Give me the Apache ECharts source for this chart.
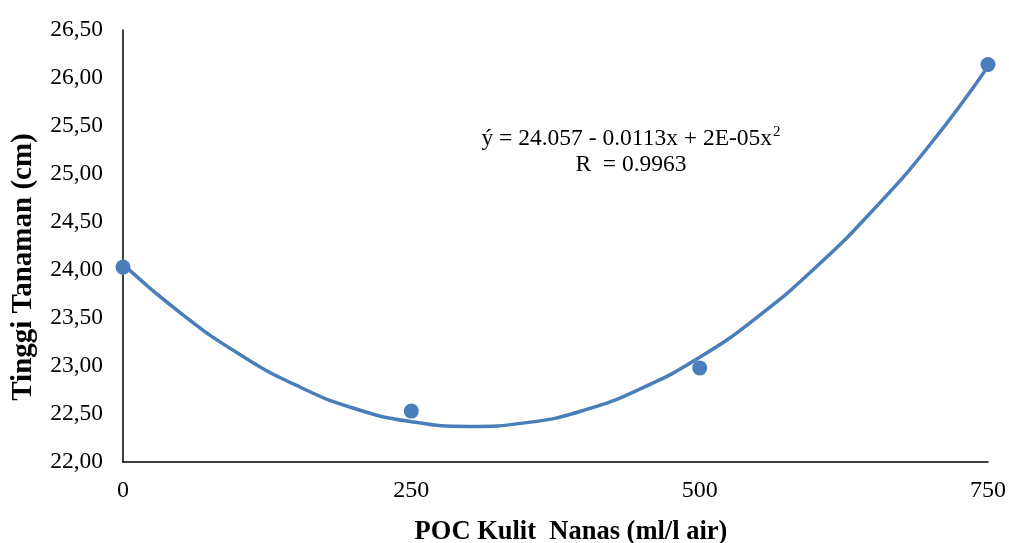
<!DOCTYPE html>
<html>
<head>
<meta charset="utf-8">
<script src="https://cdn.jsdelivr.net/npm/echarts@6/dist/echarts.min.js"></script>
<style>html,body{margin:0;padding:0;background:#fff;}#c{width:1009px;height:543px;}</style>
</head>
<body>
<div id="c"></div>
<script>
var doses = [0, 250, 500, 750];
var heights = [24.03, 22.53, 22.98, 26.14];
var trendX = [0, 50, 100, 150, 200, 250, 300, 350, 400, 450, 500, 550, 600, 650, 700, 750];
var trendY = [24.06, 23.55, 23.13, 22.80, 22.56, 22.42, 22.37, 22.41, 22.54, 22.77, 23.09, 23.51, 24.02, 24.62, 25.31, 26.12];
var yTicks = [22, 22.5, 23, 23.5, 24, 24.5, 25, 25.5, 26, 26.5];
var xTicks = [0, 250, 500, 750];
var eqText = 'ý = 24.057 - 0.0113x + 2E-05x';
var eqSup = '2';
var rText = 'R  = 0.9963';
var xName = 'POC Kulit  Nanas (ml/l air)';
var yName = 'Tinggi Tanaman (cm)';

var font = '"Liberation Serif", "Times New Roman", serif';
var chart = echarts.init(document.getElementById('c'));
function txt(s, x, y, size, bold, rot, rich) {
  return {type: 'text', x: x, y: y, rotation: rot || 0,
    style: {text: s, fontFamily: font, fontSize: size, fontWeight: bold ? 'bold' : 'normal',
      fill: '#000', align: 'center', verticalAlign: 'middle', rich: rich}};
}
chart.setOption({
  animation: false,
  grid: {left: 123, right: 21, top: 30, bottom: 81},
  xAxis: {
    type: 'value', min: 0, max: 750, interval: 250,
    axisLine: {lineStyle: {color: '#000', width: 1.5}},
    axisTick: {show: false},
    splitLine: {show: false},
    axisLabel: {color: '#000', fontFamily: font, fontSize: 24, margin: 17}
  },
  yAxis: {
    type: 'value', min: 22, max: 26.5, interval: 0.5,
    axisLine: {show: true, lineStyle: {color: '#000', width: 1.5}},
    axisTick: {show: false},
    splitLine: {show: false},
    axisLabel: {color: '#000', fontFamily: font, fontSize: 23.5, margin: 20,
      formatter: function (v) { return v.toFixed(2).replace('.', ','); }}
  },
  graphic: [
    txt('{m|' + eqText + '}{s|' + eqSup + '}', 631, 138, 23.5, false, 0, {
      m: {fontFamily: font, fontSize: 23.5, fill: '#000', verticalAlign: 'bottom', lineHeight: 26},
      s: {fontFamily: font, fontSize: 15, fill: '#000', verticalAlign: 'top', lineHeight: 26, padding: [0, 0, 0, 1]}
    }),
    txt(rText, 631, 165, 23.5, false),
    txt(xName, 571, 532, 26.5, true),
    txt(yName, 24, 267, 29, true, Math.PI / 2)
  ],
  series: [
    {type: 'line', data: trendX.map(function (x, i) { return [x, trendY[i]]; }), smooth: 0.5, showSymbol: false, symbol: 'none',
      lineStyle: {color: '#4a7ebb', width: 3.5}, z: 2},
    {type: 'scatter', data: doses.map(function (x, i) { return [x, heights[i]]; }), symbolSize: 15,
      itemStyle: {color: '#4a7ebb', opacity: 1}, z: 3}
  ]
});
</script>
</body>
</html>
